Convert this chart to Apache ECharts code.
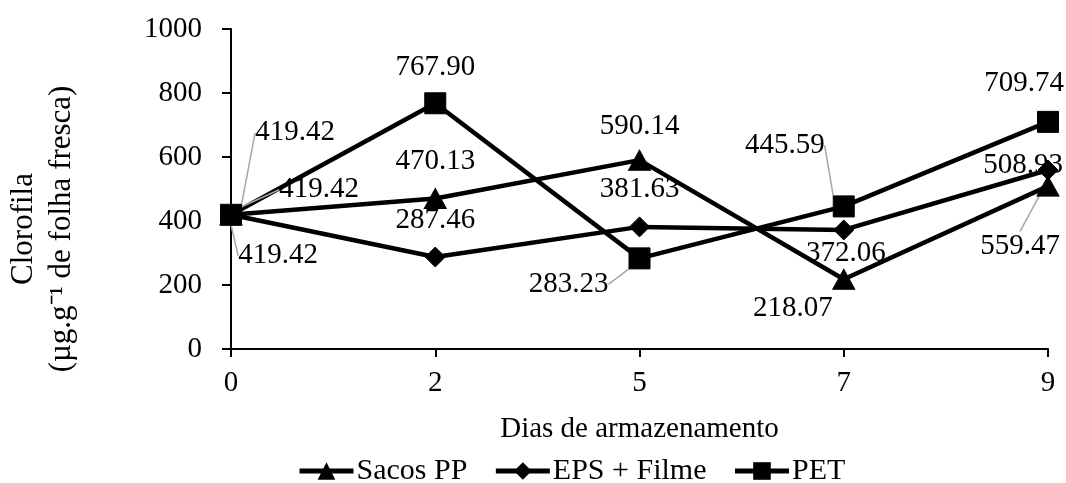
<!DOCTYPE html>
<html>
<head>
<meta charset="utf-8">
<script src="https://cdn.jsdelivr.net/npm/echarts@6/dist/echarts.min.js"></script>
<style>
html,body{margin:0;padding:0;background:#fff;}
#chart{width:1066px;height:483px;}
</style>
</head>
<body>
<div id="chart"></div>
<script>
// ---- data ----
const days = ['0', '2', '5', '7', '9'];
const sacosPP = [419.42, 470.13, 590.14, 218.07, 508.93];
const epsFilme = [419.42, 287.46, 381.63, 372.06, 559.47];
const pet = [419.42, 767.90, 283.23, 445.59, 709.74];
const yTicks = [0, 200, 400, 600, 800, 1000];

// ---- label placement (offsets from the point, px) and leader lines ----
const labelOffsets = {
  sacos: [[88, -25], [0, -37], [0, -34], [-51, 29], [-25, -21]],
  eps:   [[47, 41], [0, -37], [0, -37], [2, 23], [-28, 76]],
  pet:   [[64, -82], [0, -36], [-71, 26], [-59, -61], [-24, -38]]
};
const leaders = {
  sacos: [true, false, false, false, false],
  eps:   [true, false, false, false, true],
  pet:   [true, false, true, true, false]
};

const FONT = "'Liberation Serif', 'Times New Roman', serif";
const FS = 29;

function buildData(values, key) {
  return values.map((v, i) => ({
    value: v,
    labelLine: { show: leaders[key][i], lineStyle: { color: '#a6a6a6', width: 1.5 } }
  }));
}

function makeSeries(name, values, key, symbol, size) {
  return {
    name: name,
    type: 'line',
    data: buildData(values, key),
    symbol: symbol,
    symbolSize: size,
    showAllSymbol: true,
    lineStyle: { color: '#000', width: 4.5 },
    itemStyle: { color: '#000', borderColor: '#000' },
    label: {
      show: true,
      position: 'inside',
      color: '#000',
      fontFamily: FONT,
      fontSize: FS,
      formatter: p => p.value.toFixed(2)
    },
    labelLayout: function (params) {
      const o = labelOffsets[key][params.dataIndex];
      return { dx: o[0], dy: o[1] };
    },
    emphasis: { disabled: true },
    animation: false
  };
}

const chart = echarts.init(document.getElementById('chart'));
chart.setOption({
  backgroundColor: '#fff',
  animation: false,
  grid: { left: 231, right: 18, top: 29, bottom: 134, containLabel: false, outerBoundsMode: 'none' },
  legend: {
    left: 292,
    top: 451,
    itemWidth: 54,
    itemHeight: 22,
    itemGap: 26,
    lineStyle: { width: 5, color: '#000' },
    textStyle: { fontFamily: FONT, fontSize: 30, color: '#000', padding: [0, 0, 0, -2] },
    data: ['Sacos PP', 'EPS + Filme', 'PET']
  },
  xAxis: {
    type: 'category',
    data: days,
    boundaryGap: false,
    name: 'Dias de armazenamento',
    nameLocation: 'middle',
    nameGap: 66,
    nameTextStyle: { fontFamily: FONT, fontSize: FS, color: '#000' },
    axisLine: { lineStyle: { color: '#000', width: 2 } },
    axisTick: { show: true, length: 8, lineStyle: { color: '#000', width: 2 } },
    axisLabel: { fontFamily: FONT, fontSize: FS, color: '#000', margin: 20 },
    splitLine: { show: false }
  },
  yAxis: {
    type: 'value',
    min: yTicks[0],
    max: yTicks[yTicks.length - 1],
    interval: yTicks[1] - yTicks[0],
    name: 'Clorofila\n(µg.g⁻¹ de folha fresca)',
    nameLocation: 'middle',
    nameRotate: 90,
    nameGap: 150,
    nameTextStyle: { fontFamily: FONT, fontSize: 31, color: '#000', lineHeight: 38, align: 'center', padding: [0, 80, 0, 0] },
    axisLine: { show: true, lineStyle: { color: '#000', width: 2 } },
    axisTick: { show: true, length: 9, lineStyle: { color: '#000', width: 2 } },
    axisLabel: { fontFamily: FONT, fontSize: FS, color: '#000', margin: 29, formatter: v => String(v) },
    splitLine: { show: false }
  },
  series: [
    makeSeries('Sacos PP', sacosPP, 'sacos', 'triangle', [22, 20]),
    makeSeries('EPS + Filme', epsFilme, 'eps', 'diamond', [20, 20]),
    makeSeries('PET', pet, 'pet', 'rect', 21)
  ]
});
</script>
</body>
</html>
